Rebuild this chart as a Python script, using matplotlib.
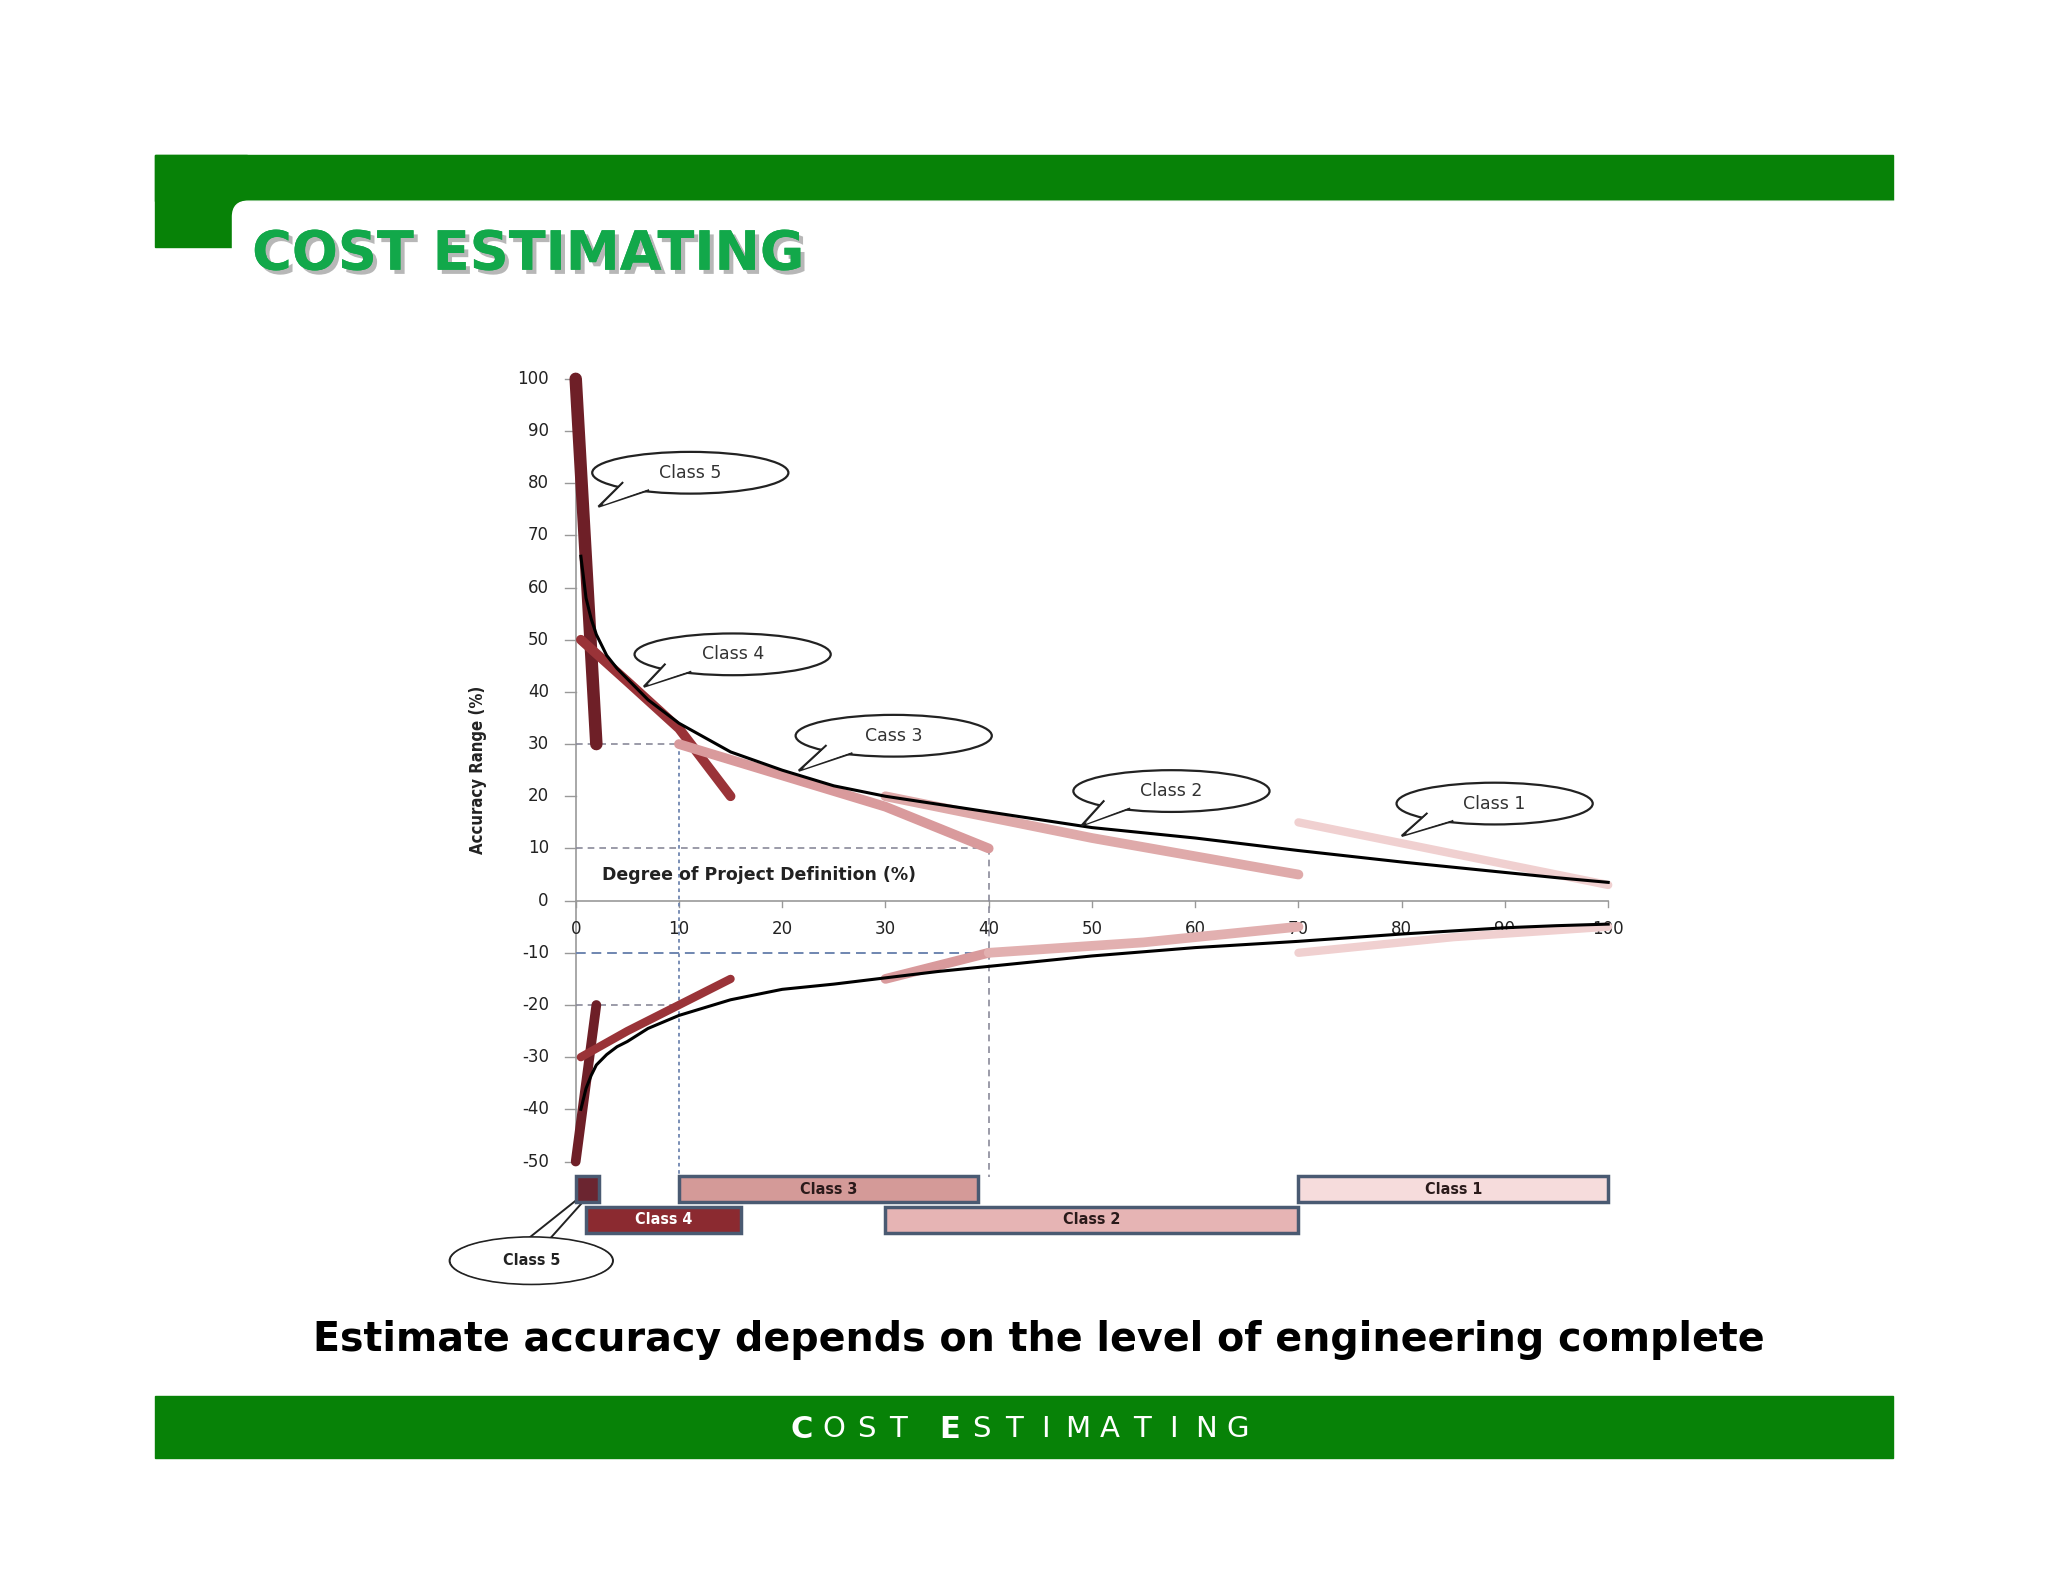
import numpy as np
import matplotlib.pyplot as plt
from matplotlib.patches import Ellipse, Polygon, Rectangle, FancyBboxPatch
import matplotlib.patheffects as pe

# ---- data ----
curve_x = [0.5, 1, 1.5, 2, 3, 4, 5, 7, 10, 15, 20, 25, 30, 35, 40, 45, 50, 55, 60, 65,
           70, 75, 80, 85, 90, 95, 100]
curve_up = [66, 58, 54, 51, 47, 44.5, 42.5, 38.5, 34, 28.5, 25, 22, 20, 18.5, 17, 15.5, 14, 13, 12,
            10.8, 9.6, 8.5, 7.4, 6.4, 5.4, 4.4, 3.5]
curve_lo = [-40, -36, -33.5, -31.5, -29.5, -28, -27, -24.5, -22, -19, -17, -16, -14.8, -13.6, -12.6,
            -11.6, -10.6, -9.8, -9, -8.4, -7.8, -7.1, -6.4, -5.8, -5.2, -4.8, -4.5]

class_lines = [  # (x, y, color, width)
    ([0, 2], [100, 30], '#6e1f27', 9),
    ([0, 2], [-50, -20], '#6e1f27', 7),
    ([0.5, 5, 10, 15], [50, 42, 33, 20], '#9a3338', 7),
    ([0.5, 5, 10, 15], [-30, -25, -20, -15], '#9a3338', 6),
    ([10, 15, 20, 25, 30, 35, 40], [30, 27, 24, 21, 18, 14, 10], '#d99a9c', 7),
    ([30, 40], [-15, -10], '#d99a9c', 7),
    ([30, 40, 50, 60, 70], [20, 16, 12, 8.5, 5], '#dfaaaa', 7),
    ([40, 55, 70], [-10, -8, -5], '#e2b0b0', 7),
    ([70, 85, 100], [15, 9, 3], '#f0d0d0', 6),
    ([70, 85, 100], [-10, -7, -5], '#f0d0d0', 6),
]

bar_names = ['Class 5', 'Class 3', 'Class 1', 'Class 4', 'Class 2']
bar_start = [0, 10, 70, 1, 30]
bar_end = [2.3, 39, 100, 16, 70]
bar_row = [0, 0, 0, 1, 1]
bar_colors = ['#6b2530', '#d49a98', '#f6dcdc', '#8b2a30', '#e6b4b4']

callouts = [  # label, center x, center y, tail x, tail y
    ('Class 5', 11.1, 82, 2.2, 75.5),
    ('Class 4', 15.2, 47.2, 6.6, 41),
    ('Cass 3', 30.8, 31.6, 21.6, 24.9),
    ('Class 2', 57.7, 21, 49, 14.4),
    ('Class 1', 89, 18.6, 80, 12.4),
]

xticks = list(range(0, 101, 10))
yticks = list(range(-50, 101, 10))

fig = plt.figure(figsize=(20.48, 15.82), dpi=100)
W, H = 1568, 1211

# ---- slide decoration ----
bg = fig.add_axes([0, 0, 1, 1])
bg.set_xlim(0, W)
bg.set_ylim(H, 0)
bg.axis('off')
green = '#078207'
bg.add_patch(Rectangle((119, 119), 1330, 35, color=green))
bg.add_patch(Rectangle((119, 119), 70, 70, color=green))
bg.add_patch(FancyBboxPatch((178, 154), 1300, 60, boxstyle='round,pad=0,rounding_size=12',
                            color='white'))
bg.add_patch(Rectangle((119, 1069), 1330, 47, color=green))
bg.text(193, 195, 'COST ESTIMATING', fontsize=39, fontweight='bold', color='#12a84a',
        va='center', ha='left',
        path_effects=[pe.withSimplePatchShadow(offset=(3, -3), shadow_rgbFace='#888888', alpha=0.6), pe.Normal()])
bg.text(795, 1026, 'Estimate accuracy depends on the level of engineering complete',
        fontsize=28.5, fontweight='bold', ha='center', va='center', color='black')

# footer, letter-spaced
fx = 614
for i, ch in enumerate('COST ESTIMATING'):
    if ch == ' ':
        fx += 15
        continue
    bold = i in (0, 5)
    bg.text(fx, 1094, ch, fontsize=22 if bold else 21, fontweight='bold' if bold else 'normal',
            color='white', ha='center', va='center')
    fx += 24.5

# ---- chart ----
x0px, x1px = 338, 1255
y0px, y1px = 989, 278
ax = fig.add_axes([x0px / W, 1 - y0px / H, (x1px - x0px) / W, (y0px - y1px) / H])
ax.set_xlim(-13, 103)
ax.set_ylim(-75, 103)
ax.axis('off')

ax.plot([0, 100], [0, 0], color='#999999', lw=1.2)
ax.plot([0, 0], [-50, 100], color='#999999', lw=1.2)
for t in xticks:
    ax.plot([t, t], [0, -1.2], color='#999999', lw=1)
    ax.text(t, -5.4, str(t), ha='center', va='center', fontsize=12, color='#222222')
for t in yticks:
    ax.plot([-1, 0], [t, t], color='#999999', lw=1)
    ax.text(-2.6, t, str(t), ha='right', va='center', fontsize=12, color='#222222')
ax.text(-9.5, 25, 'Accuracy Range (%)', rotation=90, ha='center', va='center',
        fontsize=12, fontweight='bold', fontstretch='condensed', color='#222222')
ax.text(2.5, 5, 'Degree of Project Definition (%)', ha='left', va='center',
        fontsize=12.5, fontweight='bold', color='#222222')

dash = dict(color='#8a8a9a', lw=1.2, ls=(0, (4, 3)))
ax.plot([0, 10], [30, 30], **dash)
ax.plot([0, 40], [10, 10], **dash)
ax.plot([0, 40], [-10, -10], color='#6f86b0', lw=1.4, ls=(0, (5, 3)))
ax.plot([0, 10], [-20, -20], **dash)
ax.plot([10, 10], [30, -53], color='#6f86b0', lw=1.3, ls=(0, (2, 2)))
ax.plot([40, 40], [10, -53], **dash)

for xs, ys, c, w in class_lines:
    ax.plot(xs, ys, color=c, lw=w, solid_capstyle='round', solid_joinstyle='round', zorder=3)
ax.plot(curve_x, curve_up, color='black', lw=2.2, zorder=4)
ax.plot(curve_x, curve_lo, color='black', lw=2.2, zorder=4)

for name, s, e, r, c in zip(bar_names, bar_start, bar_end, bar_row, bar_colors):
    ytop = -52.8 - r * 5.9
    ax.add_patch(Rectangle((s, ytop - 5), e - s, 5, facecolor=c, edgecolor='#4a5a72', lw=2.5, zorder=3))
    if name != 'Class 5':
        ax.text((s + e) / 2, ytop - 2.5, name, ha='center', va='center', fontsize=11.5,
                fontweight='bold', fontstretch='condensed',
                color='white' if name == 'Class 4' else '#2a1a1a', zorder=4)

for label, cx, cy, tx, ty in callouts:
    ax.add_patch(Ellipse((cx, cy), 19, 8, facecolor='white', edgecolor='#222222', lw=1.6, zorder=5))
    ax.add_patch(Polygon([[cx - 6.5, cy - 1.8], [tx, ty], [cx - 4, cy - 3.3]], closed=False,
                         facecolor='white', edgecolor='#222222', lw=1.6, zorder=6))
    ax.add_patch(Polygon([[cx - 6.3, cy - 1.7], [tx + 0.4, ty + 0.3], [cx - 4, cy - 3.1]],
                         facecolor='white', edgecolor='none', zorder=6))
    ax.text(cx, cy, label, ha='center', va='center', fontsize=12.5, color='#333333', zorder=7)

ax.add_patch(Ellipse((-4.3, -69), 15.8, 9, facecolor='white', edgecolor='#222222', lw=1.6, zorder=5))
ax.plot([-4.5, 0], [-64.6, -57.5], color='#222222', lw=1.4)
ax.plot([-2.5, 0.8], [-64.8, -57.5], color='#222222', lw=1.4)
ax.add_patch(Ellipse((-4.3, -69), 15.6, 8.8, facecolor='white', edgecolor='none', zorder=5))
ax.text(-4.3, -69, 'Class 5', ha='center', va='center', fontsize=11.5, fontweight='bold',
        fontstretch='condensed', color='#222222', zorder=7)

fig.savefig('out.png', dpi=100, facecolor='white')
